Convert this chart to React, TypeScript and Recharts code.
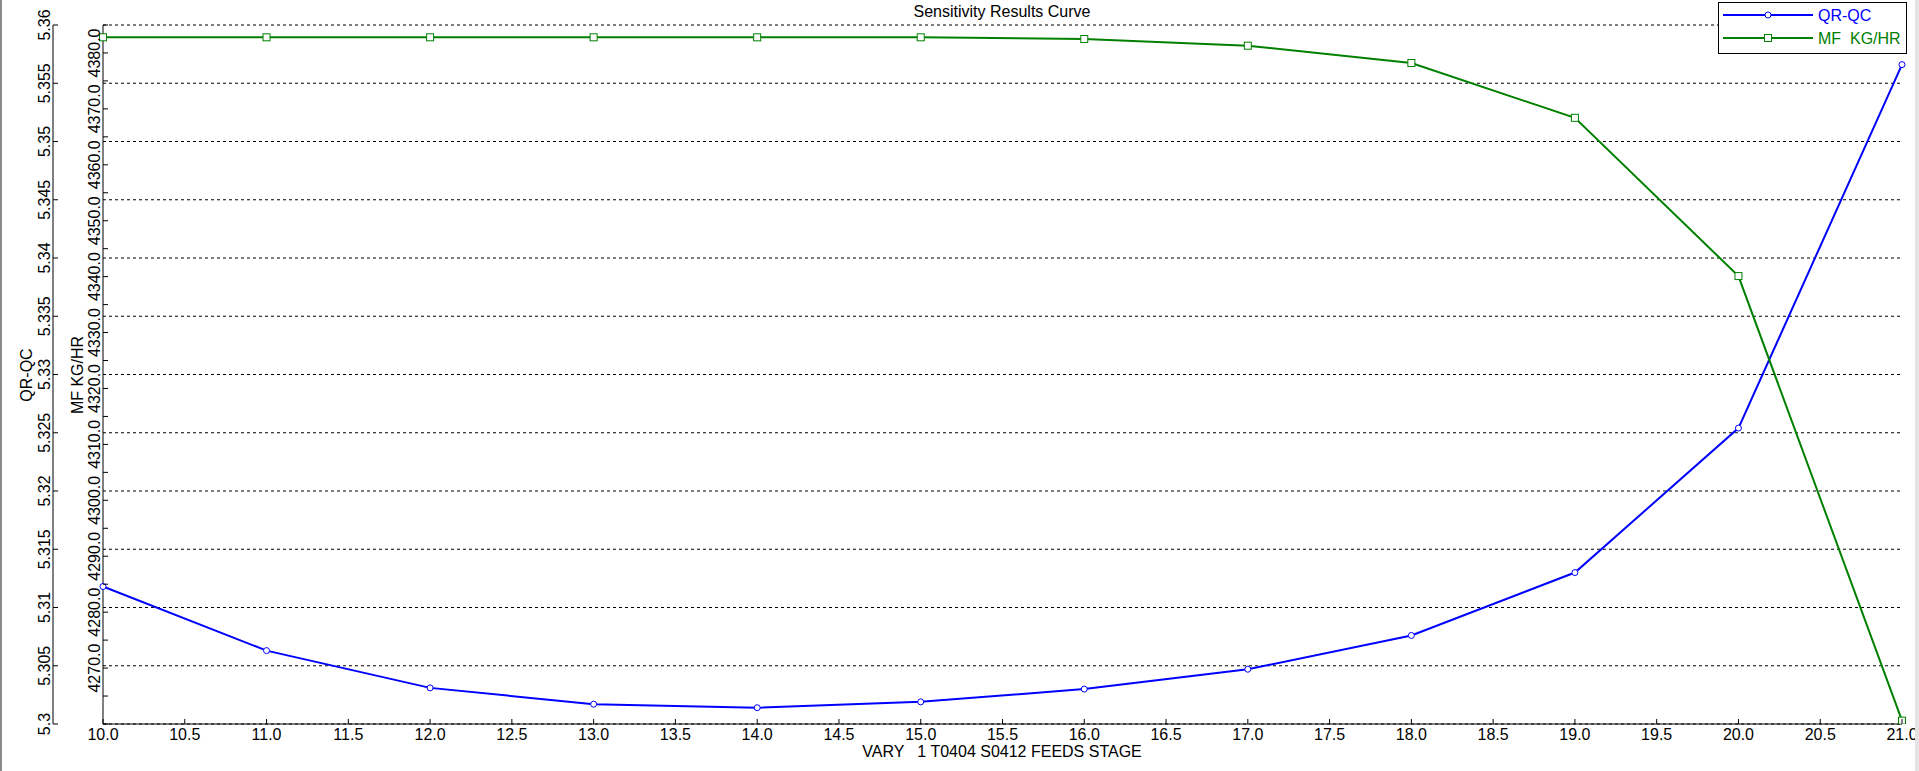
import React from 'react';
import { LineChart, Line, XAxis, YAxis, CartesianGrid } from 'recharts';

const stages = [10, 11, 12, 13, 14, 15, 16, 17, 18, 19, 20, 21];
const qrQc = [5.3118, 5.3063, 5.3031, 5.3017, 5.3014, 5.3019, 5.303, 5.3047, 5.3076, 5.313, 5.3254, 5.3566];
const mfKgHr = [4382.8, 4382.8, 4382.8, 4382.8, 4382.8, 4382.8, 4382.5, 4381.3, 4378.2, 4368.4, 4340.1, 4260.6];

const xTicks = [10, 10.5, 11, 11.5, 12, 12.5, 13, 13.5, 14, 14.5, 15, 15.5, 16, 16.5, 17, 17.5, 18, 18.5, 19, 19.5, 20, 20.5, 21];
const qrTicks = [5.3, 5.305, 5.31, 5.315, 5.32, 5.325, 5.33, 5.335, 5.34, 5.345, 5.35, 5.355, 5.36];
const mfTicks = [4260, 4265, 4270, 4275, 4280, 4285, 4290, 4295, 4300, 4305, 4310, 4315, 4320, 4325, 4330, 4335, 4340, 4345, 4350, 4355, 4360, 4365, 4370, 4375, 4380, 4385];
const mfLabelTicks = [4270, 4280, 4290, 4300, 4310, 4320, 4330, 4340, 4350, 4360, 4370, 4380];

const TITLE = 'Sensitivity Results Curve';
const X_LABEL = 'VARY   1 T0404 S0412 FEEDS STAGE';
const QR_NAME = 'QR-QC';
const MF_NAME = 'MF KG/HR';

const BLUE = '#0000ff';
const GREEN = '#008000';
const FONT = '"Liberation Sans", Arial, sans-serif';

const data = stages.map((s, i) => ({ stage: s, qr: qrQc[i], mf: mfKgHr[i] }));

const XTick = (props: any) => {
  const { x, y, payload } = props;
  return (
    <g>
      <line x1={x} y1={y} x2={x} y2={y - 5} stroke="#000" strokeWidth={1} />
      <text x={x} y={y + 16} textAnchor="middle" fontSize={16} fontFamily={FONT} fill="#000">
        {Number(payload.value).toFixed(1)}
      </text>
    </g>
  );
};

const QrTick = (props: any) => {
  const { x, y, payload } = props;
  const lx = x - 3;
  return (
    <g>
      <line x1={x} y1={y} x2={x + 5} y2={y} stroke="#000" strokeWidth={1} />
      <text x={lx} y={y} transform={`rotate(-90 ${lx} ${y})`} textAnchor="middle" fontSize={16} fontFamily={FONT} fill="#000">
        {String(Number(Number(payload.value).toFixed(3)))}
      </text>
    </g>
  );
};

const MfTick = (props: any) => {
  const { x, y, payload } = props;
  const lx = x - 3;
  const v = Number(payload.value);
  const show = mfLabelTicks.includes(Math.round(v));
  return (
    <g>
      <line x1={x} y1={y} x2={x + 5} y2={y} stroke="#000" strokeWidth={1} />
      {show && (
        <text x={lx} y={y} transform={`rotate(-90 ${lx} ${y})`} textAnchor="middle" fontSize={16} fontFamily={FONT} fill="#000">
          {v.toFixed(1)}
        </text>
      )}
    </g>
  );
};

const CircleDot = (p: any) => (
  <circle key={`c${p.index}`} cx={p.cx} cy={p.cy} r={3} fill="#fff" stroke={BLUE} strokeWidth={1} />
);
const SquareDot = (p: any) => (
  <rect key={`s${p.index}`} x={p.cx - 3.5} y={p.cy - 3.5} width={7} height={7} fill="#fff" stroke={GREEN} strokeWidth={1} />
);

export default function App() {
  return (
    <div style={{ position: 'absolute', left: 0, top: 0, width: 1919, height: 771, background: '#fff', overflow: 'hidden' }}>
      <LineChart width={1919} height={771} data={data} margin={{ top: 25, right: 17, bottom: 17, left: 0 }}>
        <CartesianGrid yAxisId="qr" vertical={false} stroke="#000" strokeDasharray="3 3" />
        <XAxis
          dataKey="stage"
          type="number"
          domain={[10, 21]}
          ticks={xTicks}
          interval={0}
          tickSize={0}
          tickMargin={0}
          tick={XTick}
          axisLine={{ stroke: '#000' }}
          tickLine={false}
          height={30}
        />
        <YAxis
          yAxisId="mf"
          type="number"
          domain={[4260, 4385]}
          ticks={mfTicks}
          interval={0}
          tickSize={0}
          tickMargin={0}
          tick={MfTick}
          tickLine={false}
          axisLine={{ stroke: '#000' }}
          width={50}
          allowDataOverflow
        />
        <YAxis
          yAxisId="qr"
          type="number"
          domain={[5.3, 5.36]}
          ticks={qrTicks}
          interval={0}
          tickSize={0}
          tickMargin={0}
          tick={QrTick}
          tickLine={false}
          axisLine={{ stroke: '#000' }}
          width={53}
          allowDataOverflow
        />
        <Line yAxisId="qr" dataKey="qr" name={QR_NAME} stroke={BLUE} strokeWidth={2} dot={CircleDot} isAnimationActive={false} />
        <Line yAxisId="mf" dataKey="mf" name={MF_NAME} stroke={GREEN} strokeWidth={2} dot={SquareDot} isAnimationActive={false} />
      </LineChart>

      <svg width={1919} height={771} style={{ position: 'absolute', left: 0, top: 0, pointerEvents: 'none' }}>
        <text x={1002} y={17} textAnchor="middle" fontSize={16} fontFamily={FONT} fill="#000">{TITLE}</text>
        <text x={1002} y={757} textAnchor="middle" fontSize={16} fontFamily={FONT} fill="#000" style={{ whiteSpace: 'pre' }}>{X_LABEL}</text>
        <text x={32} y={375} transform="rotate(-90 32 375)" textAnchor="middle" fontSize={16} fontFamily={FONT} fill="#000">{QR_NAME}</text>
        <text x={83} y={375} transform="rotate(-90 83 375)" textAnchor="middle" fontSize={16} fontFamily={FONT} fill="#000">{MF_NAME}</text>
        <rect x={0} y={0} width={2} height={771} fill="#8a8a8a" />
        <rect x={1915} y={0} width={4} height={771} fill="#e4e4e4" />
        <g>
          <rect x={1718.5} y={2.5} width={188} height={51} fill="#fff" stroke="#000" strokeWidth={1} />
          <line x1={1723} y1={15} x2={1813} y2={15} stroke={BLUE} strokeWidth={2} />
          <circle cx={1768} cy={15} r={3} fill="#fff" stroke={BLUE} strokeWidth={1} />
          <text x={1818} y={21} fontSize={16} fontFamily={FONT} fill={BLUE}>{QR_NAME}</text>
          <line x1={1723} y1={38} x2={1813} y2={38} stroke={GREEN} strokeWidth={2} />
          <rect x={1764.5} y={34.5} width={7} height={7} fill="#fff" stroke={GREEN} strokeWidth={1} />
          <text x={1818} y={44} fontSize={16} fontFamily={FONT} fill={GREEN} style={{ whiteSpace: 'pre' }}>{'MF  KG/HR'}</text>
        </g>
      </svg>
    </div>
  );
}
